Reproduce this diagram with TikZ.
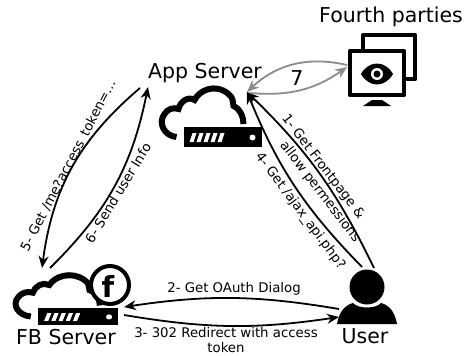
\documentclass[tikz,border=0pt]{standalone}
\usepackage{fontspec}
\setmainfont{DejaVu Sans}
\usetikzlibrary{arrows.meta}
\tikzset{
    flow/.style={line width=1.8pt,-{Stealth[length=12pt,width=10pt]}},
    flowgray/.style={flow,color=black!45},
    title/.style={font=\fontsize{20.5}{24}\selectfont,inner sep=0pt},
    step label/.style={font=\fontsize{13.3}{15.5}\selectfont,inner sep=0pt,align=center},
    icon/.style={line width=6pt},
    pics/servericon/.style={code={
        \draw[icon] (-7,10) .. controls (-19,9) and (-26,-4) .. (-19,-13)
            .. controls (-16,-18) and (-10,-20) .. (-5,-18)
            .. controls (-3,-26) and (5,-31) .. (11,-27)
            .. controls (16,-37) and (32,-44) .. (45,-33)
            .. controls (50,-29) and (49,-26) .. (50,-21)
            .. controls (57,-18) and (60,-10) .. (60,-3);
        \fill (0,0) rectangle (78,20);
        \foreach \x in {0,7,14,21,28} {
            \fill[white] (\x+6,15) -- (\x+10,15) -- (\x+13,6) -- (\x+9,6) -- cycle;
        }
        \fill[white] (69,10.5) circle (3);
    }}
}
\begin{document}
\begin{tikzpicture}[x=1pt,y=-1pt]
    \useasboundingbox (0,0) rectangle (464,356);
    %% Servers
    \pic at (183.5,127) {servericon};
    \pic[xscale=1.03,yscale=0.85] at (38,308) {servericon};
    \draw[line width=4pt,fill=white] (110,285) circle (19);
    \node[inner sep=0pt,font=\fontsize{29}{29}\bfseries\selectfont] (fblogo) at (108,286) {f};
    %% Fourth parties
    \draw[line width=4.5pt,line join=round] (363,35) rectangle (415,79);
    \draw[line width=4.5pt,fill=white,line join=round] (350,51) rectangle (404,95);
    \fill (363,106) -- (372,100) -- (382,100) -- (391,106) -- cycle;
    \fill (361,74) .. controls (369,60) and (385,60) .. (393,74)
        .. controls (385,88) and (369,88) .. (361,74) -- cycle;
    \fill[white] (377,74) circle (6);
    \fill (377,74) circle (3.5);
    %% User
    \fill (367,287) circle (17.5);
    \fill (337,324) .. controls (339,312) and (345,305) .. (353,303)
        .. controls (358,309) and (376,309) .. (381,303)
        .. controls (389,305) and (395,312) .. (397,324) -- cycle;
    %% Names
    \node[title] (appname) at (205,73) {App Server};
    \node[title] (fbname) at (66,337) {FB Server};
    \node[title] (username) at (365,336) {User};
    \node[title] (fourthname) at (391,17) {Fourth parties};
    %% Connector ends
    \coordinate (appA) at (247,92);
    \coordinate (appB) at (140,88);
    \coordinate (appC) at (148,87);
    \coordinate (appD) at (250,93);
    \coordinate (userA) at (374,268);
    \coordinate (userB) at (362,267);
    \coordinate (userC) at (339,309);
    \coordinate (userD) at (339,317);
    \coordinate (fbA) at (42,268);
    \coordinate (fbB) at (50,268);
    \coordinate (fbC) at (124,307);
    \coordinate (fbD) at (124,315);
    \coordinate (fourthA) at (347,65);
    \coordinate (fourthB) at (347,67);
    %% Flows
    \draw[flow] (userA) to[bend right=10] (appA);
    \draw[flow] (userB) to[bend left=11] (appA);
    \draw[flow] (appB) to[bend right=21] (fbA);
    \draw[flow] (fbB) to[bend right=17] (appC);
    \draw[flow] (userC) to[bend right=9] (fbC);
    \draw[flow] (fbD) to[bend right=9] (userD);
    \draw[flowgray] (fourthA) to[bend right=28] (appA);
    \draw[flowgray] (appD) to[bend right=20] (fourthB);
    %% Labels
    \node[title] (seven) at (297,78) {7};
    \node[step label,rotate=-52.5] (getfront) at (323,167) {1- Get Frontpage \&};
    \node[step label,rotate=-52.5] (allowperm) at (320,192) {allow permessions};
    \node[step label] (getdialog) at (234,289) {2- Get OAuth Dialog};
    \node[step label] (redirect) at (226,340) {3- 302 Redirect with access\\token};
    \node[step label,rotate=-53.4] (getajax) at (300,211) {4- Get /ajax\_api.php?};
    \node[step label,rotate=62.5] (getme) at (69,166) {5- Get /me?access\_token=...};
    \node[step label,rotate=58.7] (senduser) at (118,193) {6- Send user Info};
\end{tikzpicture}
\end{document}
